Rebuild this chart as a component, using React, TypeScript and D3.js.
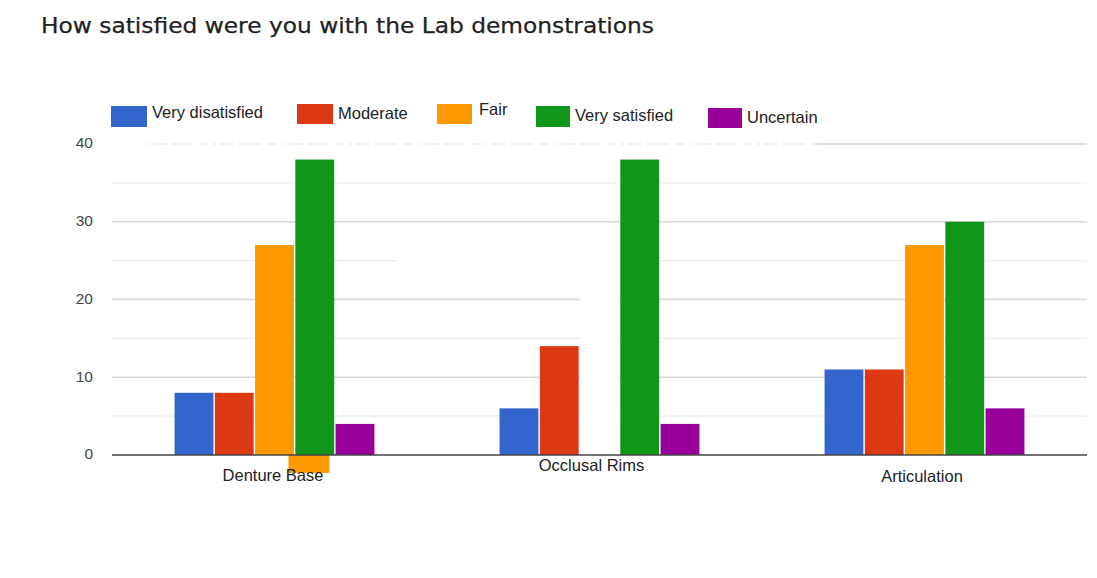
import React from "react";
import * as d3 from "d3";

// Survey responses per demonstration
const categories = ["Denture Base", "Occlusal Rims", "Articulation"];
const seriesNames = ["Very disatisfied", "Moderate", "Fair", "Very satisfied", "Uncertain"];
const veryDisatisfied = [8, 6, 11];
const moderate = [8, 14, 11];
const fair = [27, 0, 27];
const verySatisfied = [38, 38, 30];
const uncertain = [4, 4, 6];
// short Fair segment that hangs below the baseline
const fairBelow = [-2.3, 0, 0];
const yTicks = [0, 10, 20, 30, 40];
const yMinor = [5, 15, 25, 35];

const colors = ["#3366cc", "#dc3912", "#ff9900", "#109618", "#990099"];

// legend placement (swatch box and label baseline for each entry)
const legendLayout = [
  { sx: 111, sy: 106, sw: 36, sh: 21, tx: 152, ty: 117.5 },
  { sx: 297, sy: 104, sw: 36, sh: 20, tx: 338, ty: 119 },
  { sx: 437, sy: 104, sw: 35, sh: 20, tx: 479, ty: 115 },
  { sx: 536, sy: 106, sw: 34, sh: 21, tx: 575, ty: 121 },
  { sx: 708, sy: 108, sw: 34, sh: 20, tx: 747, ty: 123 },
];
// category label nudges
const labelLayout = [
  { dx: -1.5, y: 481 },
  { dx: -8, y: 471 },
  { dx: -2.5, y: 482 },
];

const W = 1097;
const H = 578;
const left = 112;
const right = 1087;
const top = 144;
const bottom = 455;

export default function App() {
  const values = [veryDisatisfied, moderate, fair, verySatisfied, uncertain];

  const x0 = d3
    .scaleBand<string>()
    .domain(categories)
    .range([left, right])
    .paddingInner(0.385)
    .paddingOuter(0.1925);
  const x1 = d3
    .scaleBand<string>()
    .domain(seriesNames)
    .range([0, x0.bandwidth()])
    .paddingInner(0.035)
    .paddingOuter(0);
  const y = d3.scaleLinear().domain([0, 40]).range([bottom, top]);

  const font = "'Liberation Sans', Arial, sans-serif";

  return (
    <svg
      width={W}
      height={H}
      style={{ position: "absolute", left: 0, top: 0, background: "#fff" }}
    >
      <text
        x={41}
        y={33}
        fontFamily="'DejaVu Sans', Verdana, sans-serif"
        fontSize={21}
        fill="#1f1f1f"
        stroke="#1f1f1f"
        strokeWidth={0.25}
        textLength={613}
        lengthAdjust="spacingAndGlyphs"
      >
        How satisfied were you with the Lab demonstrations
      </text>

      {/* legend */}
      {seriesNames.map((name, i) => {
        const l = legendLayout[i];
        return (
          <g key={name}>
            <rect x={l.sx} y={l.sy} width={l.sw} height={l.sh} fill={colors[i]} />
            <text x={l.tx} y={l.ty} fontFamily={font} fontSize={16.5} fill="#222">
              {name}
            </text>
          </g>
        );
      })}

      {/* minor gridlines */}
      {yMinor.map((v) =>
        v === 25 ? (
          <g key={v}>
            <line x1={left} x2={397} y1={y(v)} y2={y(v)} stroke="#ececec" strokeWidth={1.3} />
            <line x1={659} x2={right} y1={y(v)} y2={y(v)} stroke="#ececec" strokeWidth={1.3} />
          </g>
        ) : (
          <line key={v} x1={left} x2={right} y1={y(v)} y2={y(v)} stroke="#ececec" strokeWidth={1.3} />
        )
      )}
      {/* major gridlines */}
      {yTicks
        .filter((v) => v !== 0 && v !== 40)
        .map((v) => (
          <line key={v} x1={left} x2={right} y1={y(v)} y2={y(v)} stroke="#d6d6d6" strokeWidth={1.4} />
        ))}
      <line x1={145} x2={817} y1={y(40)} y2={y(40)} stroke="#e6e6e6" strokeWidth={1.2} strokeDasharray="3 4 14 5 22 6 9 5" />
      <line x1={817} x2={right} y1={y(40)} y2={y(40)} stroke="#d6d6d6" strokeWidth={1.4} />

      {/* empty Fair slot for Occlusal Rims */}
      <rect
        x={(x0("Occlusal Rims") as number) + (x1("Fair") as number)}
        y={y(24)}
        width={x1.bandwidth()}
        height={y(0) - y(24)}
        fill="#fff"
      />

      {/* y axis labels */}
      {yTicks.map((v) => (
        <text
          key={v}
          x={93}
          y={y(v) - 1}
          dy="0.35em"
          textAnchor="end"
          fontFamily={font}
          fontSize={15.5}
          fill="#444"
        >
          {v}
        </text>
      ))}

      {/* bars */}
      {categories.map((c, ci) => (
        <g key={c} transform={`translate(${x0(c)},0)`}>
          {seriesNames.map((s, si) => {
            const v = values[si][ci];
            if (v <= 0) return null;
            return (
              <rect
                key={s}
                x={x1(s)}
                y={y(v)}
                width={x1.bandwidth()}
                height={y(0) - y(v)}
                fill={colors[si]}
              />
            );
          })}
          {fairBelow[ci] < 0 && (
            <rect
              x={(x1("Fair") as number) + x1.step() * 0.83}
              y={y(0)}
              width={x1.bandwidth() + 2}
              height={y(fairBelow[ci]) - y(0)}
              fill={colors[2]}
            />
          )}
        </g>
      ))}

      {/* baseline */}
      <line x1={left} x2={right} y1={y(0)} y2={y(0)} stroke="#444" strokeWidth={1.6} />

      {/* category labels */}
      {categories.map((c, ci) => (
        <text
          key={c}
          x={(x0(c) as number) + x0.bandwidth() / 2 + labelLayout[ci].dx}
          y={labelLayout[ci].y}
          textAnchor="middle"
          fontFamily={font}
          fontSize={16.5}
          fill="#222"
        >
          {c}
        </text>
      ))}
    </svg>
  );
}
